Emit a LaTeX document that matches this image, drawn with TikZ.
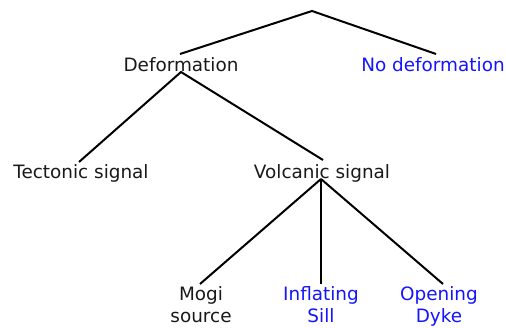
\documentclass[tikz,border=0pt]{standalone}
\usepackage{fontspec}
\setmainfont{DejaVu Sans}
\definecolor{leafblue}{RGB}{20,20,255}
\definecolor{txt}{RGB}{25,25,25}
\begin{document}
\begin{tikzpicture}[x=1pt,y=-1pt,
  lbl/.style={font=\fontsize{18.4}{22}\selectfont, text=txt, inner sep=0pt, align=center},
  leaf/.style={lbl, text=leafblue},
  edge/.style={line width=2pt, black}]
\useasboundingbox (0,0) rectangle (506,328);
% nodes
\node[lbl]  (def)  at (181,67)  {\strut Deformation};
\node[leaf] (nodef) at (433,67) {\strut No deformation};
\node[lbl]  (tect) at (81,174)  {\strut Tectonic signal};
\node[lbl]  (volc) at (322,174) {\strut Volcanic signal};
\node[lbl]  (mogi) at (201,307) {\strut Mogi\\\strut source};
\node[leaf] (sill) at (321,307) {\strut Inflating\\\strut Sill};
\node[leaf] (dyke) at (439,307) {\strut Opening\\\strut Dyke};
% connection points
\coordinate (root) at (312,11);
\coordinate (defT) at (180,54);
\coordinate (nodefT) at (436,54);
\coordinate (defB) at (181,72);
\coordinate (tectT) at (79,162);
\coordinate (volcT) at (323,160);
\coordinate (volcB) at (321,179);
\coordinate (mogiT) at (200,284);
\coordinate (sillT) at (321,284);
\coordinate (dykeT) at (443,284);
% connectors
\draw[edge] (defT) -- (root) -- (nodefT);
\draw[edge] (tectT) -- (defB) -- (volcT);
\draw[edge] (volcB) -- (mogiT);
\draw[edge] (volcB) -- (sillT);
\draw[edge] (volcB) -- (dykeT);
\end{tikzpicture}
\end{document}
